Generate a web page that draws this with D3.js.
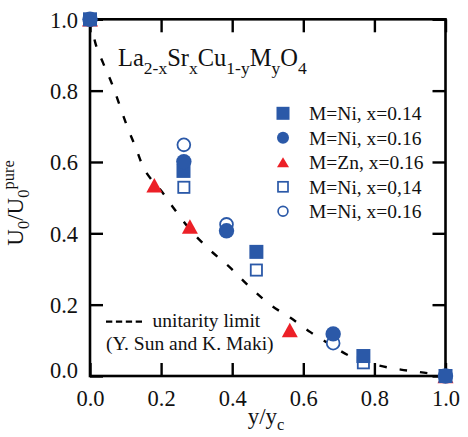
<!DOCTYPE html>
<html><head><meta charset="utf-8">
<script src="https://cdn.jsdelivr.net/npm/d3@7"></script>
<style>
html,body{margin:0;padding:0;background:#fff;}
svg{display:block;}
</style></head>
<body>
<svg id="c" width="468" height="437"></svg>
<script>
// ---- data ----
const xTicks = [0, 0.2, 0.4, 0.6, 0.8, 1.0];
const yTicks = [0, 0.2, 0.4, 0.6, 0.8, 1.0];

const curveX = [0, 0.015, 0.037, 0.063, 0.083, 0.105, 0.128, 0.150, 0.175, 0.198, 0.235, 0.280, 0.330, 0.395, 0.452, 0.508, 0.564, 0.620, 0.668, 0.725, 0.798, 0.874, 0.950, 1.0];
const curveY = [1.0, 0.934, 0.877, 0.816, 0.760, 0.698, 0.642, 0.585, 0.548, 0.522, 0.471, 0.412, 0.360, 0.303, 0.247, 0.199, 0.163, 0.123, 0.093, 0.059, 0.033, 0.018, 0.008, 0.0];

const ni14FilledX = [0, 0.263, 0.468, 0.769, 1.0];
const ni14FilledY = [1.0, 0.575, 0.348, 0.056, 0.0];
const ni16FilledX = [0, 0.264, 0.384, 0.684, 1.0];
const ni16FilledY = [1.0, 0.601, 0.407, 0.118, 0.0];
const znX = [0, 0.181, 0.281, 0.562, 1.0];
const znY = [1.0, 0.535, 0.419, 0.129, 0.0];
const ni14OpenX = [0.264, 0.468, 0.769];
const ni14OpenY = [0.529, 0.297, 0.037];
const ni16OpenX = [0.264, 0.384, 0.684];
const ni16OpenY = [0.648, 0.425, 0.092];

const legendLabels = ["M=Ni, x=0.14", "M=Ni, x=0.16", "M=Zn, x=0.16", "M=Ni, x=0,14", "M=Ni, x=0.16"];

// ---- drawing ----
const BLUE = "#2b59a8", RED = "#ec2027";
const FONT = '"Liberation Serif"';
const svg = d3.select("#c");
const L = 90, R = 445.5, T = 19.3, B = 376;
const x = d3.scaleLinear().domain([0, 1]).range([L, R]);
const y = d3.scaleLinear().domain([0, 1]).range([B, T]);
const fmt = d3.format(".1f");
const TK = 13;

function styleAxis(g){
  g.attr("font-family", null).attr("font-size", null);
  g.select(".domain").remove();
  g.selectAll(".tick line").attr("stroke", "#000").attr("stroke-width", 2.4);
}
const gB = svg.append("g").attr("transform", `translate(0,${B})`)
  .call(d3.axisBottom(x).tickValues(xTicks).tickSizeInner(-TK).tickSizeOuter(0).tickFormat(fmt));
styleAxis(gB);
gB.selectAll(".tick text").attr("y", 30).attr("dy", 0).attr("font-size", 22.5).attr("fill", "#111");

const gT = svg.append("g").attr("transform", `translate(0,${T})`)
  .call(d3.axisTop(x).tickValues(xTicks).tickSizeInner(-TK).tickSizeOuter(0).tickFormat(""));
styleAxis(gT);

const gL = svg.append("g").attr("transform", `translate(${L},0)`)
  .call(d3.axisLeft(y).tickValues(yTicks).tickSizeInner(-TK).tickSizeOuter(0).tickFormat(fmt));
styleAxis(gL);
gL.selectAll(".tick text").attr("x", -12).attr("dy", d => d === 0 ? "0.05em" : "0.35em")
  .attr("font-size", 22.5).attr("fill", "#111");

const gR = svg.append("g").attr("transform", `translate(${R},0)`)
  .call(d3.axisRight(y).tickValues(yTicks).tickSizeInner(-TK).tickSizeOuter(0).tickFormat(""));
styleAxis(gR);

svg.append("rect").attr("x", L).attr("y", T).attr("width", R - L).attr("height", B - T)
  .attr("fill", "none").attr("stroke", "#000").attr("stroke-width", 2.6);

// curve
const curvePts = curveX.map((v, i) => [v, curveY[i]]);
svg.append("path").datum(curvePts)
  .attr("d", d3.line().x(d => x(d[0])).y(d => y(d[1])).curve(d3.curveMonotoneX))
  .attr("fill", "none").attr("stroke", "#000").attr("stroke-width", 2.4)
  .attr("stroke-dasharray", "7.5,13");

// markers
function pts(xs, ys){ return xs.map((v, i) => [v, ys[i]]); }
function tri(w, h){ return `M0,${-h/2}L${w/2},${h/2}L${-w/2},${h/2}Z`; }

const gm = svg.append("g");
gm.selectAll("path.zn").data(pts(znX, znY)).enter().append("path")
  .attr("d", tri(16, 14.5)).attr("fill", RED)
  .attr("transform", d => `translate(${x(d[0])},${y(d[1])})`);
gm.selectAll("rect.o14").data(pts(ni14OpenX, ni14OpenY)).enter().append("rect")
  .attr("x", d => x(d[0]) - 5.6).attr("y", d => y(d[1]) - 5.6).attr("width", 11.2).attr("height", 11.2)
  .attr("fill", "#fff").attr("stroke", BLUE).attr("stroke-width", 1.8);
gm.selectAll("circle.o16").data(pts(ni16OpenX, ni16OpenY)).enter().append("circle")
  .attr("cx", d => x(d[0])).attr("cy", d => y(d[1])).attr("r", 6.4)
  .attr("fill", "#fff").attr("stroke", BLUE).attr("stroke-width", 1.8);
gm.selectAll("rect.f14").data(pts(ni14FilledX, ni14FilledY)).enter().append("rect")
  .attr("x", d => x(d[0]) - 7).attr("y", d => y(d[1]) - 7).attr("width", 14).attr("height", 14)
  .attr("fill", BLUE);
gm.selectAll("circle.f16").data(pts(ni16FilledX, ni16FilledY)).enter().append("circle")
  .attr("cx", d => x(d[0])).attr("cy", d => y(d[1])).attr("r", 7.7)
  .attr("fill", BLUE);

// legend
const lg = svg.append("g");
const lx = 283, ly0 = 113.3, dy = 24.5;
legendLabels.forEach((lab, i) => {
  const cy = ly0 + i * dy;
  if (i === 0) lg.append("rect").attr("x", lx - 6.5).attr("y", cy - 6.5).attr("width", 13).attr("height", 13).attr("fill", BLUE);
  if (i === 1) lg.append("circle").attr("cx", lx).attr("cy", cy).attr("r", 6).attr("fill", BLUE);
  if (i === 2) lg.append("path").attr("d", tri(12, 10)).attr("transform", `translate(${lx},${cy})`).attr("fill", RED);
  if (i === 3) lg.append("rect").attr("x", lx - 5).attr("y", cy - 5).attr("width", 10).attr("height", 10).attr("fill", "#fff").attr("stroke", BLUE).attr("stroke-width", 1.7);
  if (i === 4) lg.append("circle").attr("cx", lx).attr("cy", cy).attr("r", 4.9).attr("fill", "#fff").attr("stroke", BLUE).attr("stroke-width", 1.7);
  lg.append("text").attr("x", 309).attr("y", cy + 6.7).attr("font-size", 19.5).text(lab);
});

// title formula
const tt = svg.append("text").attr("x", 118).attr("y", 66).attr("font-size", 24.5);
[["La",0],["2-x",1],["Sr",0],["x",1],["Cu",0],["1-y",1],["M",0],["y",1],["O",0],["4",1]].forEach(([s, sub], i, arr) => {
  const prevSub = i > 0 ? arr[i-1][1] : 0;
  const ts = tt.append("tspan").text(s);
  if (sub) ts.attr("font-size", 17.5).attr("dy", 8);
  else if (prevSub) ts.attr("dy", -8);
});

// annotation
svg.append("path").attr("d", `M106,321.7H142`).attr("stroke", "#000").attr("stroke-width", 2.2)
  .attr("stroke-dasharray", "6.3,3.6").attr("fill", "none");
svg.append("text").attr("x", 152.5).attr("y", 326.7).attr("font-size", 19.5).text("unitarity limit");
svg.append("text").attr("x", 106).attr("y", 350).attr("font-size", 19.5).text("(Y. Sun and K. Maki)");

// axis titles
const xt = svg.append("text").attr("x", 266).attr("y", 424).attr("text-anchor", "middle").attr("font-size", 23);
xt.append("tspan").text("y/y");
xt.append("tspan").text("c").attr("font-size", 16.5).attr("dy", 6);

const yt = svg.append("text").attr("transform", "translate(23,203) rotate(-90)").attr("text-anchor", "middle").attr("font-size", 23);
yt.append("tspan").text("U");
yt.append("tspan").text("0").attr("font-size", 16.5).attr("dy", 6);
yt.append("tspan").text("/U").attr("dy", -6);
yt.append("tspan").text("0").attr("font-size", 16.5).attr("dy", 6);
yt.append("tspan").text("pure").attr("font-size", 16.5).attr("dy", -15);

svg.selectAll("text").style("font-family", FONT).style("fill", "#111");
</script>
</body></html>
